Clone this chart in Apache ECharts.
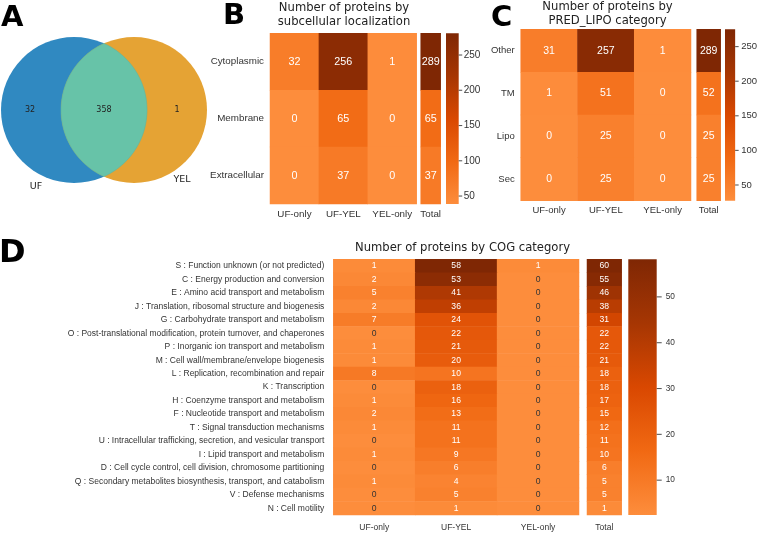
<!DOCTYPE html>
<html><head><meta charset="utf-8">
<script src="https://cdn.jsdelivr.net/npm/echarts@6/dist/echarts.min.js"></script>
<style>html,body{margin:0;padding:0;background:#fff}#c{width:760px;height:533px}</style>
</head><body><div id="c"></div>
<script>
// ---------- data ----------
const vennSetLabels = ['UF', 'YEL'];
const vennCounts = [32, 358, 1]; // UF only, shared, YEL only

const groupCols = ['UF-only', 'UF-YEL', 'YEL-only'];
const totalCol = ['Total'];

const locTitle = ['Number of proteins by', 'subcellular localization'];
const locRows = ['Cytoplasmic', 'Membrane', 'Extracellular'];
const locUfOnly = [32, 0, 0];
const locUfYel = [256, 65, 37];
const locYelOnly = [1, 0, 0];
const locTotal = [289, 65, 37];
const locTicks = [50, 100, 150, 200, 250];
const locBarRange = [38.7, 280.8];

const lipoTitle = ['Number of proteins by', 'PRED_LIPO category'];
const lipoRows = ['Other', 'TM', 'Lipo', 'Sec'];
const lipoUfOnly = [31, 1, 0, 0];
const lipoUfYel = [257, 51, 25, 25];
const lipoYelOnly = [1, 0, 0, 0];
const lipoTotal = [289, 52, 25, 25];
const lipoTicks = [50, 100, 150, 200, 250];
const lipoBarRange = [27.3, 275];

const cogTitle = ['Number of proteins by COG category'];
const cogRows = [
  'S : Function unknown (or not predicted)',
  'C : Energy production and conversion',
  'E : Amino acid transport and metabolism',
  'J : Translation, ribosomal structure and biogenesis',
  'G : Carbohydrate transport and metabolism',
  'O : Post-translational modification, protein turnover, and chaperones',
  'P : Inorganic ion transport and metabolism',
  'M : Cell wall/membrane/envelope biogenesis',
  'L : Replication, recombination and repair',
  'K : Transcription',
  'H : Coenzyme transport and metabolism',
  'F : Nucleotide transport and metabolism',
  'T : Signal transduction mechanisms',
  'U : Intracellular trafficking, secretion, and vesicular transport',
  'I : Lipid transport and metabolism',
  'D : Cell cycle control, cell division, chromosome partitioning',
  'Q : Secondary metabolites biosynthesis, transport, and catabolism',
  'V : Defense mechanisms',
  'N : Cell motility'
];
const cogUfOnly = [1, 2, 5, 2, 7, 0, 1, 1, 8, 0, 1, 2, 1, 0, 1, 0, 1, 0, 0];
const cogUfYel = [58, 53, 41, 36, 24, 22, 21, 20, 10, 18, 16, 13, 11, 11, 9, 6, 4, 5, 1];
const cogYelOnly = [1, 0, 0, 0, 0, 0, 0, 0, 0, 0, 0, 0, 0, 0, 0, 0, 0, 0, 0];
const cogTotal = [60, 55, 46, 38, 31, 22, 22, 21, 18, 18, 17, 15, 12, 11, 10, 6, 5, 5, 1];
const cogTicks = [10, 20, 30, 40, 50];
const cogBarRange = [2.4, 58.2];

// ---------- styles / layout ----------
const ORANGES = ['#fd8d3c', '#f16913', '#d94801', '#a63603', '#7f2704'];
const SANS = 'Liberation Sans, Arial, sans-serif';
const DEJA = 'DejaVu Sans, sans-serif';
const TXT = '#333';

const panels = [
  { rows: locRows, cols: [locUfOnly, locUfYel, locYelOnly], total: locTotal, ticks: locTicks, range: locBarRange, cmap: [0, 280],
    main: {left: 270, top: 33.3, width: 146.7, height: 170.7}, tot: {left: 420.7, width: 20}, cb: {left: 446, width: 12.7},
    font: 9.8, cellFont: 10.8, yMargin: 6, xMargin: 5, tickLen: 3.5, tickMargin: 5, tickFont: 10, zeroDark: false },
  { rows: lipoRows, cols: [lipoUfOnly, lipoUfYel, lipoYelOnly], total: lipoTotal, ticks: lipoTicks, range: lipoBarRange, cmap: [0, 275],
    main: {left: 520.7, top: 29.3, width: 170.3, height: 171.4}, tot: {left: 696.7, width: 24}, cb: {left: 725, width: 10.7},
    font: 9.5, cellFont: 10.5, yMargin: 6, xMargin: 5, tickLen: 3.5, tickMargin: 6, tickFont: 9.5, zeroDark: false },
  { rows: cogRows, cols: [cogUfOnly, cogUfYel, cogYelOnly], total: cogTotal, ticks: cogTicks, range: cogBarRange, cmap: [0, 58],
    main: {left: 333.3, top: 259.3, width: 245.7, height: 255.7}, tot: {left: 587, width: 34.7}, cb: {left: 628.3, width: 28.4},
    font: 8.5, cellFont: 8.6, yMargin: 9, xMargin: 8, tickLen: 5, tickMargin: 9, tickFont: 8.3, zeroDark: true }
];

const grid = [], xAxis = [], yAxis = [], series = [], visualMap = [];
const noLine = { show: false };
const gradStops = ORANGES.map((c, i) => ({ offset: i / (ORANGES.length - 1), color: c }));

panels.forEach((p) => {
  const g0 = grid.length;
  grid.push({ left: p.main.left, top: p.main.top, width: p.main.width, height: p.main.height });
  grid.push({ left: p.tot.left, top: p.main.top, width: p.tot.width, height: p.main.height });
  grid.push({ left: p.cb.left, top: p.main.top, width: p.cb.width, height: p.main.height });

  const xLab = { color: TXT, fontSize: p.font, fontFamily: SANS, margin: p.xMargin, interval: 0, hideOverlap: false };
  xAxis.push({ gridIndex: g0, type: 'category', data: groupCols, axisLine: noLine, axisTick: noLine, axisLabel: xLab, splitLine: noLine });
  xAxis.push({ gridIndex: g0 + 1, type: 'category', data: totalCol, axisLine: noLine, axisTick: noLine, axisLabel: xLab, splitLine: noLine });
  xAxis.push({ gridIndex: g0 + 2, type: 'value', min: 0, max: 1, show: false });

  yAxis.push({ gridIndex: g0, type: 'category', data: p.rows, inverse: true, axisLine: noLine, axisTick: noLine,
    axisLabel: { color: TXT, fontSize: p.font, fontFamily: SANS, margin: p.yMargin, interval: 0, hideOverlap: false }, splitLine: noLine });
  yAxis.push({ gridIndex: g0 + 1, type: 'category', data: p.rows, inverse: true, axisLine: noLine, axisTick: noLine,
    axisLabel: { show: false }, splitLine: noLine });
  yAxis.push({ gridIndex: g0 + 2, type: 'value', position: 'right', min: p.range[0], max: p.range[1],
    axisLine: noLine, splitLine: noLine, axisTick: noLine,
    axisLabel: { color: TXT, fontSize: p.tickFont, fontFamily: SANS, margin: p.tickMargin, customValues: p.ticks } });

  const mkItem = (c, r, v) => {
    const it = { value: [c, r, v] };
    if (p.zeroDark && v === 0) it.label = { color: '#333' };
    return it;
  };
  const mainData = [];
  p.rows.forEach((_, r) => p.cols.forEach((col, c) => mainData.push(mkItem(c, r, col[r]))));
  const totData = p.rows.map((_, r) => mkItem(0, r, p.total[r]));

  const lab = { show: true, color: '#fff', fontSize: p.cellFont, fontFamily: SANS, formatter: d => d.value[2] };
  const s0 = series.length;
  series.push({ type: 'heatmap', xAxisIndex: g0, yAxisIndex: g0, data: mainData, label: lab,
    itemStyle: { borderWidth: 0 }, emphasis: { disabled: true } });
  series.push({ type: 'heatmap', xAxisIndex: g0 + 1, yAxisIndex: g0 + 1, data: totData, label: lab,
    itemStyle: { borderWidth: 0 }, emphasis: { disabled: true } });

  // colour bar: gradient rect spanning the bar range on the bar's own value axis
  series.push({ type: 'custom', xAxisIndex: g0 + 2, yAxisIndex: g0 + 2, silent: true, clip: false,
    data: [[0, p.range[0], 1, p.range[1]]],
    encode: { x: [0, 2], y: [1, 3] },
    renderItem: (params, api) => {
      const a = api.coord([api.value(0), api.value(1)]);
      const b = api.coord([api.value(2), api.value(3)]);
      return { type: 'rect', shape: { x: a[0], y: b[1], width: b[0] - a[0], height: a[1] - b[1] },
        style: { fill: new echarts.graphic.LinearGradient(0, 1, 0, 0, gradStops) } };
    } });
  // colour bar tick marks
  series.push({ type: 'scatter', xAxisIndex: g0 + 2, yAxisIndex: g0 + 2, silent: true, clip: false,
    data: p.ticks.map(t => [1, t]), symbol: 'rect', symbolSize: [p.tickLen, 1.1], symbolOffset: [p.tickLen / 2, 0],
    itemStyle: { color: TXT }, emphasis: { disabled: true } });

  visualMap.push({ type: 'continuous', show: false, seriesIndex: [s0, s0 + 1], min: p.cmap[0], max: p.cmap[1],
    inRange: { color: ORANGES } });
});

// ---------- graphics: venn, titles, panel letters ----------
const C1 = { x: 74, y: 110 }, C2 = { x: 134, y: 110 }, R = 73;
const th = Math.acos((C2.x - C1.x) / 2 / R);
const lensPts = [];
const N = 48;
for (let i = 0; i <= N; i++) { const a = -th + 2 * th * i / N; lensPts.push([C1.x + R * Math.cos(a), C1.y + R * Math.sin(a)]); }
for (let i = 0; i <= N; i++) { const a = Math.PI - th + 2 * th * i / N; lensPts.push([C2.x + R * Math.cos(a), C2.y + R * Math.sin(a)]); }

const txt = (text, x, y, size, opt = {}) => ({
  type: 'text', silent: true,
  style: Object.assign({ text: String(text), x, y, fontSize: size, fontFamily: DEJA, fill: '#222',
    textAlign: 'center', textVerticalAlign: 'middle' }, opt)
});

const graphic = [
  { type: 'circle', shape: { cx: C1.x, cy: C1.y, r: R }, style: { fill: '#3089c1' }, silent: true },
  { type: 'circle', shape: { cx: C2.x, cy: C2.y, r: R }, style: { fill: '#e5a334' }, silent: true },
  { type: 'polygon', shape: { points: lensPts }, style: { fill: '#67c3a8', stroke: '#5fb59f', lineWidth: 0.6 }, silent: true },
  txt(vennCounts[0], 30, 110, 8),
  txt(vennCounts[1], 104, 110, 8),
  txt(vennCounts[2], 177, 110, 8),
  txt(vennSetLabels[0], 36, 187, 9.5),
  txt(vennSetLabels[1], 182, 180, 9.5),
  txt('A', 1, 18, 29, { fontWeight: 'bold', textAlign: 'left', fill: '#000' }),
  txt('B', 223, 16.5, 29, { fontWeight: 'bold', textAlign: 'left', fill: '#000' }),
  txt('C', 491, 18.5, 29, { fontWeight: 'bold', textAlign: 'left', fill: '#000' }),
  txt('D', -1, 254, 32, { fontWeight: 'bold', textAlign: 'left', fill: '#000' }),
  txt(locTitle[0], 344, 7.5, 11.6),
  txt(locTitle[1], 344, 21.8, 11.6),
  txt(lipoTitle[0], 607.5, 6.5, 11.6),
  txt(lipoTitle[1], 607.5, 20.8, 11.6),
  txt(cogTitle[0], 462.5, 247.5, 11.6)
];

const chart = echarts.init(document.getElementById('c'), null, { renderer: 'canvas' });
chart.setOption({
  animation: false,
  backgroundColor: '#fff',
  grid, xAxis, yAxis, series, visualMap, graphic
});
</script></body></html>
